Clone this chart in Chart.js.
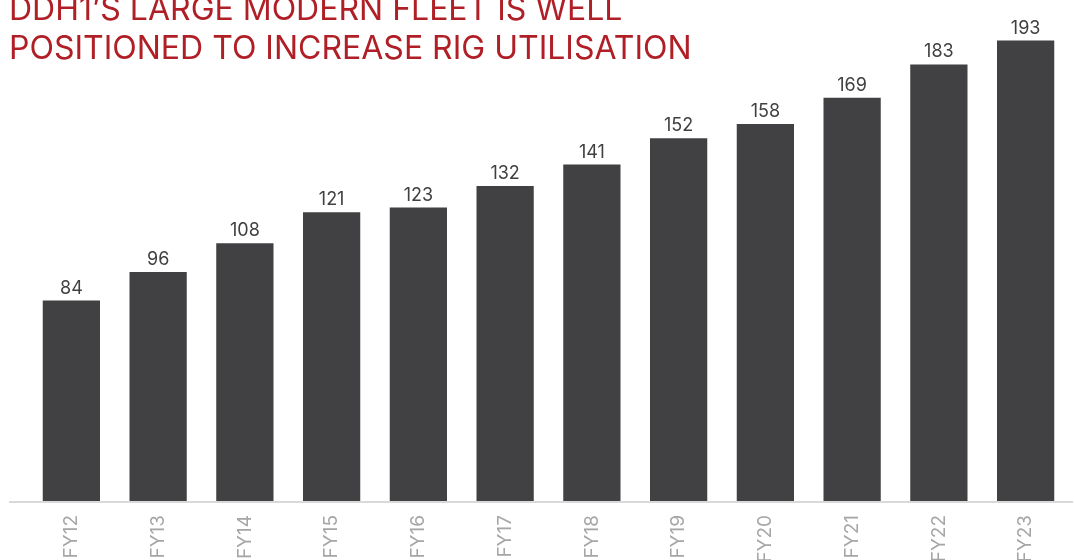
<!DOCTYPE html>
<html>
<head>
<meta charset="utf-8">
<script src="https://cdn.jsdelivr.net/npm/chart.js@4/dist/chart.umd.min.js"></script>
<style>
  html, body { margin: 0; padding: 0; background: #fff; overflow: hidden; }
  #wrap { position: relative; width: 1074px; height: 560px; }
  #title {
    position: absolute; left: 9px; top: -11px;
    font-family: Inter, sans-serif; font-size: 32px; line-height: 39px;
    color: #b01e26; text-transform: uppercase; white-space: nowrap;
    z-index: 2;
  }
</style>
</head>
<body>
<div id="wrap">
  <div id="title">DDH1’s large modern fleet is well<br>positioned to increase rig utilisation</div>
  <canvas id="fleet" width="1074" height="560"></canvas>
</div>
<script>
// rig count per financial year
const years = ["FY12", "FY13", "FY14", "FY15", "FY16", "FY17", "FY18", "FY19", "FY20", "FY21", "FY22", "FY23"];
const rigs = [84, 96, 108, 121, 123, 132, 141, 152, 158, 169, 183, 193];

const barColor = "#414042";

// number above each bar
const valueLabels = {
    id: "valueLabels",
    afterDatasetsDraw(chart) {
        const ctx = chart.ctx;
        const meta = chart.getDatasetMeta(0);
        ctx.save();
        ctx.font = "18px Inter, sans-serif";
        ctx.fillStyle = "#404040";
        ctx.textAlign = "center";
        ctx.textBaseline = "alphabetic";
        meta.data.forEach((bar, i) => {
            ctx.fillText(chart.data.datasets[0].data[i], bar.x, bar.y - 7);
        });
        ctx.restore();
    }
};

// light baseline running nearly the full width
const baseLine = {
    id: "baseLine",
    beforeDatasetsDraw(chart) {
        const ctx = chart.ctx;
        const y = chart.scales.x.top + 1;
        ctx.save();
        ctx.strokeStyle = "#d9d9d9";
        ctx.lineWidth = 2;
        ctx.beginPath();
        ctx.moveTo(9, y);
        ctx.lineTo(1073, y);
        ctx.stroke();
        ctx.restore();
    }
};

new Chart(document.getElementById("fleet"), {
    type: "bar",
    plugins: [valueLabels, baseLine],
    data: {
        labels: years,
        datasets: [{
            data: rigs,
            backgroundColor: barColor,
            categoryPercentage: 1,
            barPercentage: 0.66
        }]
    },
    options: {
        responsive: false,
        animation: false,
        layout: { padding: { left: 28, right: 5, top: 0, bottom: 0 } },
        plugins: {
            legend: { display: false },
            tooltip: { enabled: false }
        },
        scales: {
            y: {
                display: false,
                min: 0,
                max: 210
            },
            x: {
                grid: { display: false, drawTicks: false },
                border: { display: false },
                ticks: {
                    color: "#a6a6a6",
                    font: { family: "Inter, sans-serif", size: 19 },
                    minRotation: 90,
                    maxRotation: 90,
                    padding: 14
                },
                afterFit(scale) { scale.height = 59; }
            }
        }
    }
});
</script>
</body>
</html>
